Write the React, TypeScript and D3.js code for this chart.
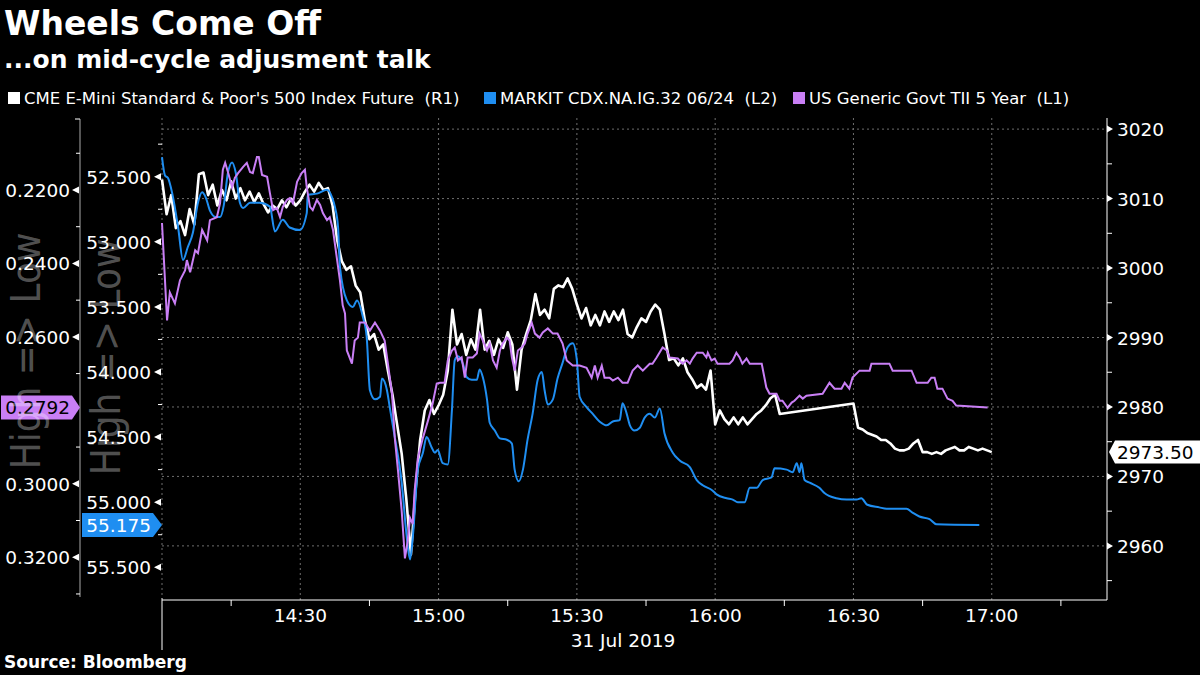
import React from 'react';
import * as d3 from 'd3';

// ---------- DATA ----------
// minutes after 14:00 on 31 Jul 2019
const spxSeg1Start = 0;
const spxSeg1 = [
  3012.75, 3007.75, 3010.5, 3005.75, 3006.75, 3004.75, 3008.5, 3006.25, 3013.5, 3013.75,
  3010.5, 3012.0, 3009.0, 3011.25, 3009.75, 3012.5, 3010.0, 3011.5, 3009.75, 3011.0,
  3009.5, 3010.75, 3009.25, 3008.0, 3009.0, 3008.5, 3009.75, 3008.75, 3010.0, 3009.0,
  3009.75, 3011.0, 3012.0, 3011.0, 3012.25, 3011.25, 3011.5, 3009.0, 3004.0, 3001.0,
  2999.75, 3000.25, 2997.5, 2996.5, 2992.5, 2989.75, 2990.5, 2988.25, 2989.0, 2985.25,
  2981.75, 2977.5, 2973.25, 2966.75, 2958.75, 2968.0, 2975.25, 2979.5, 2981.0, 2979.0,
  2980.25, 2981.75, 2985.25, 2994.0, 2989.0, 2990.5, 2987.5, 2989.75, 2988.25, 2994.0,
  2988.25, 2989.5, 2987.5, 2989.75, 2988.5, 2990.75, 2989.0, 2982.5, 2988.25, 2990.5,
  2992.5, 2996.25, 2993.25, 2994.0, 2992.75, 2997.0, 2997.5, 2997.25, 2998.5, 2997.0,
  2994.75, 2992.75, 2994.25, 2991.75, 2993.25, 2991.75, 2993.75, 2992.25, 2993.75, 2992.5,
  2994.0, 2990.5, 2990.0, 2991.5, 2992.75, 2992.25, 2993.75, 2994.75, 2994.0, 2990.5,
  2986.75, 2987.0, 2986.0, 2987.0, 2985.0, 2984.0, 2982.75, 2983.25, 2982.5, 2985.25,
  2977.5, 2979.5, 2978.25, 2977.5, 2978.5, 2977.5, 2978.5, 2977.5, 2978.25, 2979.0,
  2979.5, 2980.25, 2981.25, 2981.75, 2979.0,
];
const spxSeg2Start = 150;
const spxSeg2 = [
  2980.5, 2977.0, 2976.75, 2976.25, 2976.0, 2975.75, 2975.25, 2975.25, 2974.75, 2974.0,
  2973.75, 2973.75, 2974.0, 2974.75, 2975.25, 2973.5, 2973.5, 2973.25, 2973.5, 2973.25,
  2973.75, 2974.0, 2974.25, 2973.75, 2973.75, 2974.25, 2974.0, 2973.75, 2974.0, 2973.75,
  2973.5,
];

const cdxMinutes = [
  0, 0.65, 1.3, 2.2, 3.5, 4.55, 5.6, 6.7, 7.8, 8.7, 9.5, 10.4, 11.7, 12.6, 13.4, 14.3, 15.2, 16.0, 16.9, 17.6,
  19.1, 21.2, 23.4, 24.5, 26.2, 27.7, 29.9, 31.4, 31.6, 33.6, 35.8, 36.9, 37.5, 38.2, 38.6, 40.1, 41.4, 42.3, 43.6, 44.4,
  45.1, 46.2, 47.3, 47.7, 48.8, 49.4, 50.5, 52.0, 53.1, 53.8, 54.4, 55.5, 56.6, 57.4, 58.5, 59.2, 59.8, 60.9, 62.0, 62.9,
  63.5, 64.2, 65.3, 66.1, 67.2, 68.3, 68.9, 69.6, 70.5, 71.1, 72.2, 73.3, 74.8, 75.9, 76.5, 77.4, 78.3, 79.3, 80.4, 81.5,
  82.4, 83.0, 83.7, 84.8, 85.8, 86.9, 88.0, 89.1, 90.0, 90.6, 92.1, 93.4, 94.9, 96.5, 97.8, 99.3, 99.9, 100.8, 101.5, 102.5,
  103.6, 104.7, 105.8, 106.9, 108.0, 109.0, 110.8, 112.3, 114.5, 116.0, 117.3, 119.4, 120.3, 122.5, 123.8, 124.9, 126.4, 127.5, 129.0, 130.3,
  132.2, 132.9, 135.5, 136.8, 137.7, 138.3, 138.7, 139.4, 140.5, 142.6, 143.7, 146.3, 148.5, 150.7, 151.7, 153.0, 155.6, 157.2, 161.5, 162.8,
  164.3, 166.5, 168.0, 177.3,
];
const cdxValues = [
  52.35, 52.49, 52.51, 52.625, 52.89, 53.14, 53.04, 52.93, 52.70, 52.62, 52.66, 52.76, 52.81, 52.81, 52.72, 52.47, 52.39, 52.47, 52.70, 52.74,
  52.70, 52.70, 52.73, 52.92, 52.83, 52.89, 52.91, 52.78, 52.64, 52.63, 52.60, 52.66, 52.73, 52.89, 53.19, 53.45, 53.50, 53.45, 53.58, 53.73,
  54.14, 54.21, 54.19, 54.05, 54.14, 54.27, 54.50, 54.85, 55.27, 55.44, 55.27, 54.75, 54.62, 54.50, 54.58, 54.62, 54.60, 54.70, 54.71, 54.29,
  53.91, 53.88, 53.94, 54.04, 54.06, 54.06, 53.98, 54.04, 54.21, 54.39, 54.45, 54.51, 54.52, 54.55, 54.75, 54.84, 54.75, 54.52, 54.32, 54.06,
  54.00, 54.14, 54.25, 54.21, 54.05, 53.93, 53.81, 53.78, 53.91, 54.19, 54.27, 54.32, 54.38, 54.41, 54.38, 54.37, 54.24, 54.32, 54.41, 54.45,
  54.43, 54.35, 54.32, 54.35, 54.28, 54.47, 54.62, 54.68, 54.73, 54.83, 54.87, 54.91, 54.94, 54.97, 54.98, 55.00, 55.00, 54.89, 54.89, 54.83,
  54.81, 54.74, 54.75, 54.77, 54.70, 54.77, 54.70, 54.83, 54.85, 54.89, 54.93, 54.97, 54.98, 54.98, 54.97, 55.02, 55.04, 55.05, 55.05, 55.08,
  55.11, 55.13, 55.17, 55.175,
];

const tipsMinutes = [
  0, 1.1, 1.7, 2.8, 3.9, 5.0, 5.4, 6.1, 7.2, 7.8, 8.7, 9.8, 10.4, 11.9, 12.6, 13.2, 13.7, 14.3, 15.2, 15.8,
  16.5, 17.6, 18.4, 19.1, 19.7, 20.6, 21.0, 21.7, 22.8, 23.4, 24.1, 24.9, 25.6, 26.2, 27.1, 27.7, 28.4, 29.3, 30.3, 31.0,
  31.4, 32.1, 32.7, 33.6, 34.3, 34.9, 35.8, 36.4, 37.1, 37.9, 38.6, 39.2, 39.7, 40.1, 41.2, 41.8, 42.5, 42.9, 44.0, 45.1,
  46.2, 47.3, 48.3, 49.0, 49.9, 50.5, 51.2, 52.0, 52.7, 53.3, 53.8, 54.4, 54.8, 55.5, 56.6, 57.7, 58.7, 59.6, 60.3, 61.3,
  62.0, 62.9, 63.5, 64.2, 65.0, 65.7, 66.3, 67.4, 68.3, 68.9, 69.6, 70.5, 71.1, 71.8, 72.6, 73.3, 73.9, 74.8, 75.4, 75.9,
  76.5, 77.2, 78.0, 78.7, 79.3, 80.2, 80.9, 81.9, 82.6, 83.7, 84.8, 85.8, 86.9, 87.8, 89.1, 90.6, 92.1, 93.2, 93.9, 94.5,
  95.4, 96.0, 97.1, 97.8, 98.9, 99.9, 101.0, 102.1, 103.2, 104.3, 105.8, 106.4, 107.3, 108.6, 109.5, 110.1, 111.9, 112.9, 113.8, 114.5,
  115.1, 116.0, 117.3, 118.1, 118.4, 119.2, 119.9, 120.5, 123.1, 123.8, 124.6, 125.3, 125.9, 126.8, 127.5, 130.1, 131.1, 131.8, 133.3, 134.0,
  134.6, 135.7, 136.6, 137.2, 138.3, 139.0, 139.8, 143.3, 144.8, 145.9, 147.4, 148.1, 149.1, 149.8, 151.3, 153.5, 153.9, 157.8, 158.5, 162.6,
  163.7, 166.1, 166.9, 167.6, 168.2, 169.3, 170.4, 171.5, 172.3, 179.1,
];
const tipsValues = [
  0.2290, 0.2555, 0.2479, 0.2509, 0.2446, 0.2419, 0.2391, 0.2424, 0.2364, 0.2372, 0.2309, 0.2337, 0.2282, 0.2274, 0.2236, 0.2145, 0.2126, 0.2151, 0.2192, 0.2167,
  0.2154, 0.2137, 0.2126, 0.2151, 0.2154, 0.2110, 0.2110, 0.2159, 0.2164, 0.2208, 0.2255, 0.2249, 0.2274, 0.2246, 0.2227, 0.2222, 0.2236, 0.2178, 0.2154, 0.2145,
  0.2192, 0.2246, 0.2255, 0.2227, 0.2241, 0.2263, 0.2282, 0.2274, 0.2309, 0.2383, 0.2446, 0.2514, 0.2536, 0.2637, 0.2673, 0.2610, 0.2602, 0.2561, 0.2561, 0.2583,
  0.2561, 0.2583, 0.2610, 0.2673, 0.2755, 0.2875, 0.2965, 0.3074, 0.3203, 0.3156, 0.3093, 0.3110, 0.3020, 0.2930, 0.2875, 0.2828, 0.2782, 0.2727, 0.2725, 0.2725,
  0.2664, 0.2637, 0.2629, 0.2664, 0.2656, 0.2711, 0.2656, 0.2656, 0.2645, 0.2591, 0.2610, 0.2637, 0.2618, 0.2664, 0.2684, 0.2637, 0.2618, 0.2602, 0.2610, 0.2656,
  0.2692, 0.2637, 0.2629, 0.2618, 0.2591, 0.2561, 0.2591, 0.2602, 0.2588, 0.2577, 0.2591, 0.2591, 0.2618, 0.2664, 0.2678, 0.2678, 0.2684, 0.2711, 0.2678, 0.2711,
  0.2678, 0.2711, 0.2711, 0.2719, 0.2711, 0.2725, 0.2725, 0.2692, 0.2678, 0.2692, 0.2673, 0.2673, 0.2656, 0.2629, 0.2637, 0.2656, 0.2659, 0.2673, 0.2664, 0.2673,
  0.2659, 0.2643, 0.2643, 0.2656, 0.2643, 0.2664, 0.2659, 0.2673, 0.2673, 0.2664, 0.2643, 0.2656, 0.2673, 0.2659, 0.2673, 0.2673, 0.2738, 0.2755, 0.2755, 0.2774,
  0.2774, 0.2793, 0.2779, 0.2774, 0.2760, 0.2768, 0.2760, 0.2755, 0.2725, 0.2741, 0.2741, 0.2725, 0.2741, 0.2711, 0.2692, 0.2692, 0.2673, 0.2673, 0.2692, 0.2692,
  0.2725, 0.2725, 0.2711, 0.2711, 0.2741, 0.2741, 0.2768, 0.2774, 0.2787, 0.2792,
];

const rightTicks = [2960, 2970, 2980, 2990, 3000, 3010, 3020];
const rightMinor = [2955, 2965, 2975, 2985, 2995, 3005, 3015];
const l2Ticks = [52.5, 53.0, 53.5, 54.0, 54.5, 55.0, 55.5];
const l2Minor = [52.25, 52.75, 53.25, 53.75, 54.25, 54.75, 55.25];
const l1Ticks = [0.22, 0.24, 0.26, 0.30, 0.32];
const l1Minor = [0.21, 0.23, 0.25, 0.27, 0.29, 0.31, 0.33];
const xLabelMinutes = [30, 60, 90, 120, 150, 180];
const xLabels = ['14:30', '15:00', '15:30', '16:00', '16:30', '17:00'];
const xQuarterMinutes = [15, 45, 75, 105, 135, 165, 195];

const legendItems = [
  { label: "CME E-Mini Standard & Poor's 500 Index Future  (R1)", color: '#ffffff', x: 8 },
  { label: 'MARKIT CDX.NA.IG.32 06/24  (L2)', color: '#1f8ef1', x: 484 },
  { label: 'US Generic Govt TII 5 Year  (L1)', color: '#c97ff5', x: 793 },
];

// ---------- CHART ----------
const BLUE = '#1f8ef1';
const PURPLE = '#c97ff5';
const GRID = '#6e6e6e';
const SANS = "'DejaVu Sans', sans-serif";
const COND = "'DejaVu Sans Condensed', 'DejaVu Sans', sans-serif";

const BASE = new Date(2019, 6, 31, 14, 0).getTime();
const toDate = (m: number) => new Date(BASE + m * 60000);

export default function App() {
  const left = 162, right = 1107, top = 118, bottom = 598;
  const x = d3.scaleTime().domain([toDate(0), toDate(205)]).range([left, right]);
  const yR = d3.scaleLinear().domain([2952.5, 3021.6]).range([bottom, top]);
  const yL2 = d3.scaleLinear().domain([52.049, 55.736]).range([top, bottom]);
  const yL1 = d3.scaleLinear().domain([0.2004, 0.3311]).range([top, bottom]);

  const spxPts: [number, number][] = [
    ...spxSeg1.map((v, i) => [spxSeg1Start + i, v] as [number, number]),
    ...spxSeg2.map((v, i) => [spxSeg2Start + i, v] as [number, number]),
  ];
  const cdxPts: [number, number][] = cdxMinutes.map((m, i) => [m, cdxValues[i]]);
  const tipsPts: [number, number][] = tipsMinutes.map((m, i) => [m, tipsValues[i]]);

  const spxLine = d3.line<[number, number]>().x(d => x(toDate(d[0]))).y(d => yR(d[1]));
  const cdxLine = d3.line<[number, number]>().x(d => x(toDate(d[0]))).y(d => yL2(d[1])).curve(d3.curveMonotoneX);
  const tipsLine = d3.line<[number, number]>().x(d => x(toDate(d[0]))).y(d => yL1(d[1]));

  const lastSpx = spxSeg2[spxSeg2.length - 1];
  const lastCdx = cdxValues[cdxValues.length - 1];
  const lastTips = tipsValues[tipsValues.length - 1];
  const ySpx = yR(lastSpx), yCdx = yL2(lastCdx), yTips = yL1(lastTips);

  const numFont = { fontFamily: SANS, fontSize: 18.5, fill: '#fff' };

  return (
    <svg width={1200} height={675} style={{ position: 'absolute', left: 0, top: 0, display: 'block', background: '#000' }}>
      <rect x={0} y={0} width={1200} height={675} fill="#000" />

      {/* titles */}
      <text x={4} y={35} fill="#fff" fontFamily={SANS} fontWeight="bold" fontSize={33}>Wheels Come Off</text>
      <text x={4} y={68} fill="#fff" fontFamily={SANS} fontWeight="bold" fontSize={25}>...on mid-cycle adjusment talk</text>

      {/* legend */}
      {legendItems.map(it => (
        <g key={it.label}>
          <rect x={it.x} y={92} width={12} height={12} fill={it.color} />
          <text x={it.x + 16} y={104} fill="#fff" fontFamily={SANS} fontSize={16.5} style={{ whiteSpace: 'pre' }}>{it.label}</text>
        </g>
      ))}

      {/* gridlines */}
      {rightTicks.map(t => (
        <line key={'hg' + t} x1={left} x2={right} y1={yR(t)} y2={yR(t)} stroke={GRID} strokeWidth={1} strokeDasharray="2,3" />
      ))}
      {xLabelMinutes.map(m => (
        <line key={'vg' + m} x1={x(toDate(m))} x2={x(toDate(m))} y1={top} y2={bottom + 2} stroke={GRID} strokeWidth={1} strokeDasharray="2,3" />
      ))}
      <line x1={left} x2={left} y1={top} y2={bottom} stroke={GRID} strokeWidth={1} strokeDasharray="2,3" />

      {/* series */}
      <path d={spxLine(spxPts) || ''} fill="none" stroke="#fff" strokeWidth={2.6} strokeLinejoin="round" />
      <path d={cdxLine(cdxPts) || ''} fill="none" stroke={BLUE} strokeWidth={2} />
      <path d={tipsLine(tipsPts) || ''} fill="none" stroke={PURPLE} strokeWidth={2} />

      {/* x axis */}
      <line x1={left} x2={right} y1={600} y2={600} stroke="#fff" strokeWidth={1} />
      <line x1={left} x2={left} y1={598} y2={650} stroke="#fff" strokeWidth={1} />
      {xQuarterMinutes.map(m => (
        <line key={'xq' + m} x1={x(toDate(m))} x2={x(toDate(m))} y1={600} y2={606} stroke="#fff" strokeWidth={1} />
      ))}
      {xLabelMinutes.map((m, i) => (
        <text key={'xl' + m} x={x(toDate(m))} y={622} textAnchor="middle" {...numFont}>{xLabels[i]}</text>
      ))}
      <text x={623} y={647} textAnchor="middle" {...numFont}>31 Jul 2019</text>

      {/* right axis */}
      <line x1={right} x2={right} y1={top} y2={600} stroke="#fff" strokeWidth={1} />
      {rightTicks.map(t => (
        <g key={'rt' + t}>
          <path d={`M${right},${yR(t) - 3.5}L${right + 6},${yR(t)}L${right},${yR(t) + 3.5}Z`} fill="#fff" />
          <text x={right + 10} y={yR(t) + 7} {...numFont}>{t}</text>
        </g>
      ))}
      {rightMinor.map(t => (
        <line key={'rm' + t} x1={right} x2={right + 5} y1={yR(t)} y2={yR(t)} stroke="#fff" strokeWidth={1} />
      ))}

      {/* left axis L2 */}
      {l2Ticks.map(t => (
        <g key={'l2' + t}>
          <path d={`M${left - 1},${yL2(t) - 3.5}L${left - 8},${yL2(t)}L${left - 1},${yL2(t) + 3.5}Z`} fill="#fff" />
          <text x={151} y={yL2(t) + 7} textAnchor="end" {...numFont}>{t.toFixed(3)}</text>
        </g>
      ))}
      {l2Minor.map(t => (
        <line key={'l2m' + t} x1={left - 4} x2={left} y1={yL2(t)} y2={yL2(t)} stroke="#fff" strokeWidth={1} />
      ))}

      {/* left axis L1 */}
      <line x1={80} x2={80} y1={top + 1} y2={597} stroke="#aaa" strokeWidth={1} />
      <line x1={75} x2={80} y1={top + 1} y2={top + 1} stroke="#fff" strokeWidth={1} />
      {l1Ticks.map(t => (
        <g key={'l1' + t}>
          <path d={`M79,${yL1(t) - 3.5}L72,${yL1(t)}L79,${yL1(t) + 3.5}Z`} fill="#fff" />
          <text x={70} y={yL1(t) + 7} textAnchor="end" {...numFont}>{t.toFixed(4)}</text>
        </g>
      ))}
      {l1Minor.map(t => (
        <line key={'l1m' + t} x1={76} x2={80} y1={yL1(t)} y2={yL1(t)} stroke="#fff" strokeWidth={1} />
      ))}

      {/* last-value labels */}
      <path d={`M1,${yTips - 12}H72L80,${yTips}L72,${yTips + 12}H1Z`} fill={PURPLE} />
      <text x={70} y={yTips + 7} textAnchor="end" {...numFont} fill="#000">{lastTips.toFixed(4)}</text>
      <path d={`M82,${yCdx - 12}H153L162,${yCdx}L153,${yCdx + 12}H82Z`} fill={BLUE} />
      <text x={151} y={yCdx + 7} textAnchor="end" {...numFont}>{lastCdx.toFixed(3)}</text>
      <path d={`M1109,${ySpx}L1115,${ySpx - 11.5}H1200V${ySpx + 11.5}H1115Z`} fill="#fff" />
      <text x={1117} y={ySpx + 7} {...numFont} fill="#000">{lastSpx.toFixed(2)}</text>

      {/* background axis captions */}
      <g fill="#fff" fillOpacity={0.33} fontFamily={COND} fontStretch="condensed" fontSize={40}>
        <text transform="translate(40,351) rotate(-90)" textAnchor="middle">High =&gt; Low</text>
        <text transform="translate(120,357) rotate(-90)" textAnchor="middle">High =&gt; Low</text>
      </g>

      {/* source */}
      <text x={4} y={668} fill="#fff" fontFamily={SANS} fontWeight="bold" fontSize={17}>Source: Bloomberg</text>
    </svg>
  );
}
